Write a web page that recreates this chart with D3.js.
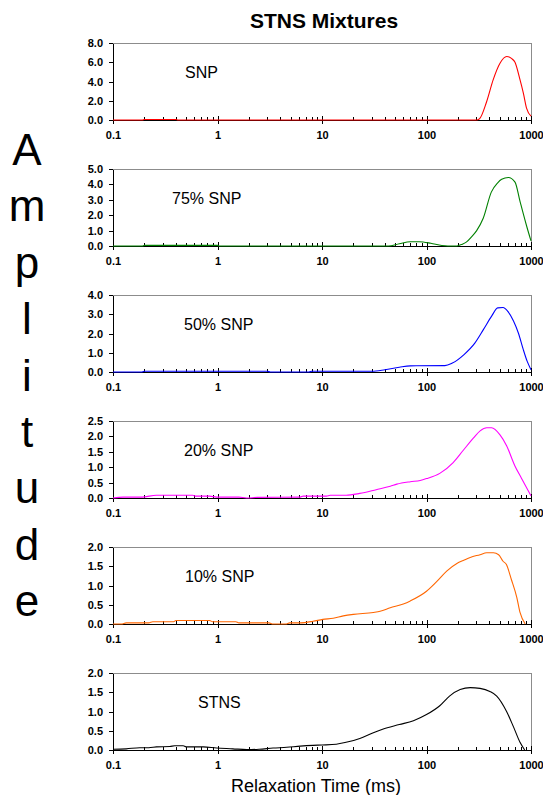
<!DOCTYPE html>
<html>
<head>
<meta charset="utf-8">
<script src="https://cdn.jsdelivr.net/npm/d3@7"></script>
<style>
  html, body { margin: 0; padding: 0; background: #fff; }
  svg { display: block; }
  text { font-family: "Liberation Sans", Arial, Helvetica, sans-serif; }
</style>
</head>
<body>
<svg id="chart" width="543" height="795"></svg>
<script>
// ---------------- DATA ----------------
const title = "STNS Mixtures";
const xAxisTitle = "Relaxation Time (ms)";
const yAxisTitle = "Amplitude";
const xTickValues = [0.1, 1, 10, 100, 1000];
const xTickLabels = ["0.1", "1", "10", "100", "1000"];
const panelNames = ["SNP", "75% SNP", "50% SNP", "20% SNP", "10% SNP", "STNS"];
const yMaxes = [8, 5, 4, 2.5, 2, 2];
const ySteps = [2, 1, 1, 0.5, 0.5, 0.5];

const snpX = [0.1, 0.19, 0.2, 0.4, 0.42, 300, 320, 376, 435, 505, 585, 650, 703, 780, 845, 908, 1000];
const snpY = [0, 0, 0.05, 0.05, 0, 0, 0.1, 1.9, 4.2, 5.9, 6.6, 6.4, 6.0, 4.3, 2.8, 1.2, 0.4];

const snp75X = [0.1, 0.19, 0.2, 1.0, 1.05, 43, 55, 70, 85, 110, 140, 160, 195, 220, 242, 270, 302, 349, 417, 480, 524, 607, 703, 785, 908, 1000];
const snp75Y = [0, 0, 0.04, 0.04, 0, 0, 0.15, 0.28, 0.28, 0.18, 0.03, 0, 0, 0.12, 0.27, 0.6, 1.0, 1.8, 3.5, 4.1, 4.33, 4.45, 4.15, 2.9, 1.3, 0.33];

const snp50X = [0.1, 0.19, 0.2, 3, 3.2, 7.5, 8, 30, 40, 55, 70, 150, 175, 230, 290, 350, 420, 480, 540, 600, 680, 760, 840, 920, 1000];
const snp50Y = [0, 0, 0.04, 0.04, 0, 0, 0.04, 0.04, 0.12, 0.25, 0.32, 0.33, 0.45, 0.92, 1.5, 2.2, 2.9, 3.33, 3.35, 3.15, 2.65, 2.0, 1.2, 0.55, 0.12];

const snp20X = [0.1, 0.125, 0.19, 0.26, 0.58, 0.62, 0.84, 0.98, 1.6, 1.9, 2.4, 6.2, 6.6, 11, 12, 17, 23, 33, 45, 52, 70, 87, 100, 134, 180, 225, 282, 326, 377, 420, 505, 584, 700, 808, 1000];
const snp20Y = [0, 0.03, 0.03, 0.09, 0.09, 0.06, 0.06, 0.03, 0.03, 0, 0.02, 0.03, 0.06, 0.06, 0.09, 0.09, 0.15, 0.27, 0.38, 0.45, 0.53, 0.57, 0.63, 0.8, 1.15, 1.55, 1.95, 2.18, 2.28, 2.28, 2.05, 1.7, 1.05, 0.65, 0.07];

const snp10X = [0.1, 0.12, 0.134, 0.22, 0.24, 0.38, 0.4, 0.84, 0.9, 1.5, 1.6, 3.1, 3.4, 4.5, 4.9, 6.2, 8.2, 10.2, 12.8, 16, 20, 31, 36, 45, 60, 70, 100, 125, 157, 197, 225, 262, 325, 377, 437, 490, 540, 580, 650, 730, 785, 880];
const snp10Y = [0, 0, 0.03, 0.03, 0.06, 0.06, 0.09, 0.09, 0.06, 0.06, 0.03, 0.03, 0, 0, 0.03, 0.03, 0.07, 0.12, 0.15, 0.21, 0.25, 0.3, 0.33, 0.42, 0.52, 0.6, 0.85, 1.1, 1.38, 1.58, 1.65, 1.73, 1.8, 1.85, 1.85, 1.8, 1.63, 1.55, 1.15, 0.7, 0.3, 0];

const stnsX = [0.1, 0.134, 0.18, 0.22, 0.26, 0.35, 0.39, 0.47, 0.5, 0.73, 0.98, 1.4, 1.9, 2.5, 3.4, 4.6, 6.2, 8.2, 10, 13.7, 17, 23, 31, 38, 55, 75, 100, 134, 166, 210, 262, 325, 404, 470, 584, 680, 785, 870];
const stnsY = [0.02, 0.03, 0.06, 0.06, 0.08, 0.09, 0.11, 0.11, 0.08, 0.08, 0.05, 0.03, 0.01, 0.02, 0.05, 0.07, 0.1, 0.12, 0.13, 0.15, 0.2, 0.3, 0.45, 0.54, 0.66, 0.76, 0.92, 1.15, 1.4, 1.57, 1.62, 1.6, 1.52, 1.4, 1.0, 0.6, 0.2, 0];

const seriesX = [snpX, snp75X, snp50X, snp20X, snp10X, stnsX];
const seriesY = [snpY, snp75Y, snp50Y, snp20Y, snp10Y, stnsY];

// ---------------- STYLE / LAYOUT ----------------
const colors = ["#ff0000", "#008000", "#0000ff", "#ff00ff", "#ff6600", "#000000"];
const plotLeft = 113, plotRight = 531;
const firstTop = 43, panelStep = 126, panelH = 77;
const labelX = [185, 172, 184, 184, 185, 198];

const svg = d3.select("#chart");

svg.append("text")
  .attr("x", 324).attr("y", 28)
  .attr("text-anchor", "middle")
  .attr("font-size", 21).attr("font-weight", "bold")
  .text(title);

// vertical "Amplitude"
const amp = svg.append("text")
  .attr("text-anchor", "middle")
  .attr("font-size", 44);
yAxisTitle.split("").forEach((ch, i) => {
  amp.append("tspan").attr("x", 27).attr("y", 165 + 56.4 * i).text(ch);
});

const x = d3.scaleLog().domain([0.1, 1000]).range([plotLeft, plotRight]);

// minor tick values
const minorTicks = [];
for (let d = 0.1; d < 1000; d *= 10) {
  for (let k = 2; k <= 9; k++) minorTicks.push(+(d * k).toPrecision(3));
}

panelNames.forEach((name, i) => {
  const top = firstTop + panelStep * i;
  const bottom = top + panelH;
  const y = d3.scaleLinear().domain([0, yMaxes[i]]).range([bottom, top]);
  const g = svg.append("g");

  // frame (top/right gray)
  g.append("path")
    .attr("d", `M${plotLeft},${top}H${plotRight}V${bottom}`)
    .attr("fill", "none").attr("stroke", "#8c8c8c").attr("stroke-width", 1)
    .attr("shape-rendering", "crispEdges");

  // y axis
  const yt = d3.range(0, yMaxes[i] + 1e-9, ySteps[i]);
  const yAxis = d3.axisLeft(y).tickValues(yt).tickFormat(d3.format(".1f"))
    .tickSizeInner(4).tickSizeOuter(0).tickPadding(6);
  const ya = g.append("g").attr("transform", `translate(${plotLeft},0)`).call(yAxis);
  ya.selectAll("text").attr("font-size", 11).attr("font-weight", "bold")
    .attr("font-family", '"Liberation Sans", Arial, sans-serif').attr("fill", "#000");
  ya.selectAll("line,path").attr("stroke", "#000").attr("shape-rendering", "crispEdges");

  // x axis
  const xAxis = d3.axisBottom(x).tickValues(xTickValues)
    .tickFormat((d, j) => xTickLabels[j]).tickSizeInner(4).tickSizeOuter(0).tickPadding(7);
  const xa = g.append("g").attr("transform", `translate(0,${bottom})`).call(xAxis);
  xa.selectAll("text").attr("font-size", 11).attr("font-weight", "bold")
    .attr("font-family", '"Liberation Sans", Arial, sans-serif').attr("fill", "#000");
  xa.selectAll("line,path").attr("stroke", "#000").attr("shape-rendering", "crispEdges");
  xa.selectAll(".tick").append("line").attr("y1", 0).attr("y2", -4)
    .attr("stroke", "#000").attr("shape-rendering", "crispEdges");
  // minor ticks inward
  g.append("g").selectAll("line").data(minorTicks).join("line")
    .attr("x1", d => Math.round(x(d)) + 0.5).attr("x2", d => Math.round(x(d)) + 0.5)
    .attr("y1", bottom).attr("y2", bottom - 3)
    .attr("stroke", "#000").attr("stroke-width", 1);

  // curve
  const pts = seriesX[i].map((v, j) => [v, seriesY[i][j]]);
  const line = d3.line().x(d => x(d[0])).y(d => y(d[1])).curve(d3.curveMonotoneX);
  g.append("path").datum(pts)
    .attr("d", line)
    .attr("fill", "none").attr("stroke", colors[i]).attr("stroke-width", 1.1);

  // panel label
  g.append("text")
    .attr("x", labelX[i]).attr("y", top + 29)
    .attr("dy", "0.35em")
    .attr("font-size", 16)
    .text(name);
});

svg.append("text")
  .attr("x", 316).attr("y", 792)
  .attr("text-anchor", "middle")
  .attr("font-size", 18)
  .text(xAxisTitle);
</script>
</body>
</html>
